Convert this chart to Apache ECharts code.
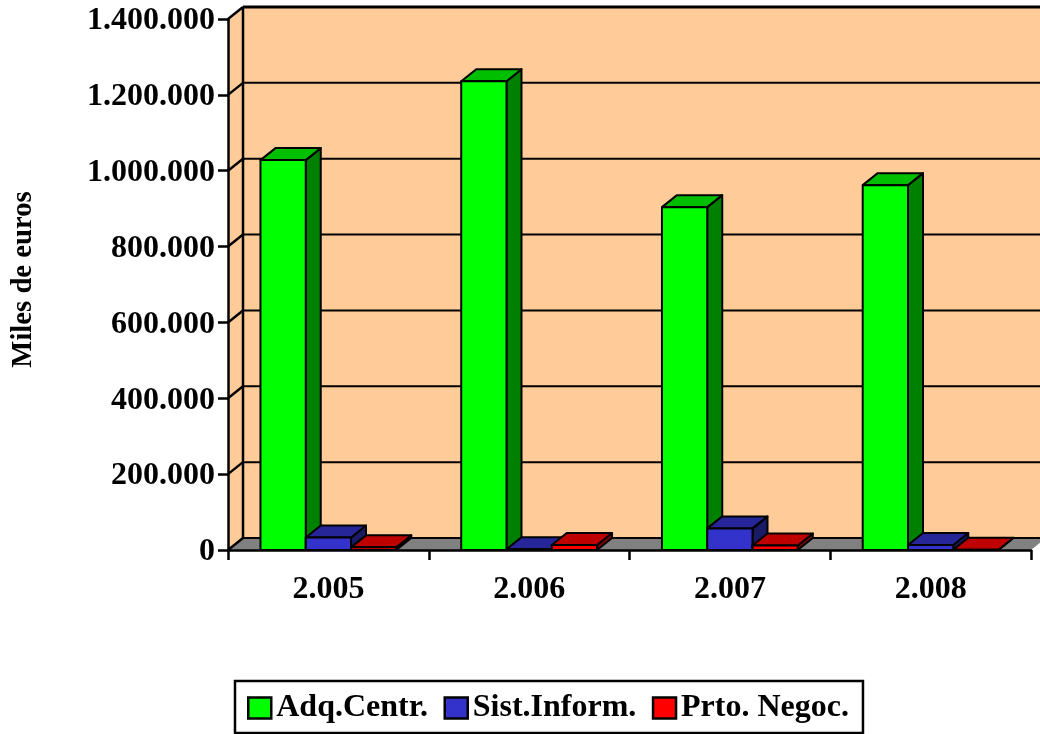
<!DOCTYPE html>
<html>
<head>
<meta charset="utf-8">
<style>html,body{margin:0;padding:0;background:#fff}#c{width:1040px;height:734px}</style>
<script src="https://cdn.jsdelivr.net/npm/echarts@6/dist/echarts.min.js"></script>
</head>
<body>
<div id="c"></div>
<script>
const categories = ['2.005', '2.006', '2.007', '2.008'];
const adqCentr = [1028000, 1236000, 904000, 962000];
const sistInform = [33000, 2000, 57000, 13000];
const prtoNegoc = [7000, 13000, 12000, 500];
const yTicks = [0, 200000, 400000, 600000, 800000, 1000000, 1200000, 1400000];
const yTickLabels = ['0', '200.000', '400.000', '600.000', '800.000', '1.000.000', '1.200.000', '1.400.000'];
const seriesNames = ['Adq.Centr.', 'Sist.Inform.', 'Prto. Negoc.'];
const faceColors = [
  { front: '#00FF00', top: '#00BF00', side: '#008000' },
  { front: '#3333CC', top: '#262699', side: '#1A1A66' },
  { front: '#FF0000', top: '#BF0000', side: '#800000' }
];
const DX = 15, DY = -12, FONT = '"Liberation Serif", "Times New Roman", serif';
const BAR_FRAC = 0.2255;

function bar3d(idx) {
  return function (params, api) {
    const cat = api.value(0), val = api.value(1);
    const p = api.coord([cat, val]);
    const base = api.coord([cat, 0]);
    const band = api.size([1, 0])[0];
    const w = band * BAR_FRAC;
    const x0 = p[0] - 1.5 * w + idx * w, x1 = x0 + w;
    const yT = p[1], yB = base[1];
    const c = faceColors[idx];
    const st = (f) => ({ fill: f, stroke: '#000', lineWidth: 2, lineJoin: 'round' });
    return {
      type: 'group',
      children: [
        { type: 'polygon', shape: { points: [[x1, yT], [x1 + DX, yT + DY], [x1 + DX, yB + DY], [x1, yB]] }, style: st(c.side) },
        { type: 'polygon', shape: { points: [[x0, yT], [x0 + DX, yT + DY], [x1 + DX, yT + DY], [x1, yT]] }, style: st(c.top) },
        { type: 'rect', shape: { x: x0, y: yT, width: w, height: yB - yT }, style: st(c.front) }
      ]
    };
  };
}

function wallItem(params, api) {
  const cs = params.coordSys;
  const v = api.value(0);
  const y = api.coord([0, v])[1];
  const xL = cs.x, xR = cs.x + cs.width, yB = cs.y + cs.height, yT = cs.y;
  const line = (a, b, c, d, lw) => ({ type: 'line', shape: { x1: a, y1: b, x2: c, y2: d }, style: { stroke: '#000', lineWidth: lw || 2 } });
  const children = [];
  if (params.dataIndex === 0) {
    children.push(
      { type: 'polygon', shape: { points: [[xL, yT], [xL + DX, yT + DY], [xL + DX, yB + DY], [xL, yB]] }, style: { fill: '#FFCC99' } },
      { type: 'rect', shape: { x: xL + DX, y: yT + DY, width: cs.width, height: cs.height }, style: { fill: '#FFCC99' } },
      { type: 'polygon', shape: { points: [[xL, yB], [xL + DX, yB + DY], [xR + DX, yB + DY], [xR, yB]] }, style: { fill: '#808080' } },
      line(xL + DX, yT + DY, xL + DX, yB + DY, 2.5)
    );
  }
  const top = v === yTicks[yTicks.length - 1];
  children.push(line(xL, y, xL + DX, y + DY, 2.5), line(xL + DX, y + DY, xR + DX, y + DY, top ? 3 : 2));
  return { type: 'group', children };
}

const chart = echarts.init(document.getElementById('c'), null, { renderer: 'canvas' });
chart.setOption({
  animation: false,
  backgroundColor: '#fff',
  grid: { left: 228, right: 9, top: 19, bottom: 184, containLabel: false, outerBoundsMode: 'none' },
  xAxis: {
    type: 'category', data: categories,
    axisLine: { lineStyle: { color: '#000', width: 2.5 } },
    axisTick: { show: true, length: 10, lineStyle: { color: '#000', width: 2.5 } },
    axisLabel: { color: '#000', fontFamily: FONT, fontWeight: 'bold', fontSize: 32, margin: 24, interval: 0 },
    splitLine: { show: false }
  },
  yAxis: {
    type: 'value', min: 0, max: 1400000, interval: 200000,
    name: 'Miles de euros', nameLocation: 'middle', nameGap: 190, nameRotate: 90,
    nameTextStyle: { color: '#000', fontFamily: FONT, fontWeight: 'bold', fontSize: 28.7, padding: [0, 0, 0, 10] },
    axisLine: { show: true, lineStyle: { color: '#000', width: 2.5 } },
    axisTick: { show: true, length: 10, lineStyle: { color: '#000', width: 2.5 } },
    axisLabel: {
      color: '#000', fontFamily: FONT, fontWeight: 'bold', fontSize: 32, margin: 13,
      verticalAlign: 'top', lineHeight: 4,
      formatter: (v) => yTickLabels[yTicks.indexOf(v)]
    },
    splitLine: { show: false }
  },
  legend: {
    show: true, left: 235, top: 681, orient: 'horizontal',
    data: seriesNames.map((n, i) => ({ name: n, icon: 'rect', itemStyle: { color: faceColors[i].front, borderColor: '#000', borderWidth: 2.5 } })),
    itemWidth: 23, itemHeight: 21, itemGap: 15.5,
    padding: [11, 14, 9, 12],
    borderColor: '#000', borderWidth: 2.5, backgroundColor: '#fff',
    textStyle: { color: '#000', fontFamily: FONT, fontWeight: 'bold', fontSize: 32, padding: [0, 0, 0, 0] },
    selectedMode: false
  },
  tooltip: { show: false },
  series: [
    { type: 'custom', name: '_walls', z: -1, silent: true, encode: { y: 0 }, data: yTicks.map((v) => [v]), renderItem: wallItem, clip: false },
    ...[adqCentr, sistInform, prtoNegoc].map((vals, i) => ({
      type: 'custom', name: seriesNames[i], z: 2 + i, silent: true, clip: false,
      itemStyle: { color: faceColors[i].front },
      encode: { x: 0, y: 1 },
      data: vals.map((v, k) => [k, v]),
      renderItem: bar3d(i)
    }))
  ]
});
</script>
</body>
</html>
